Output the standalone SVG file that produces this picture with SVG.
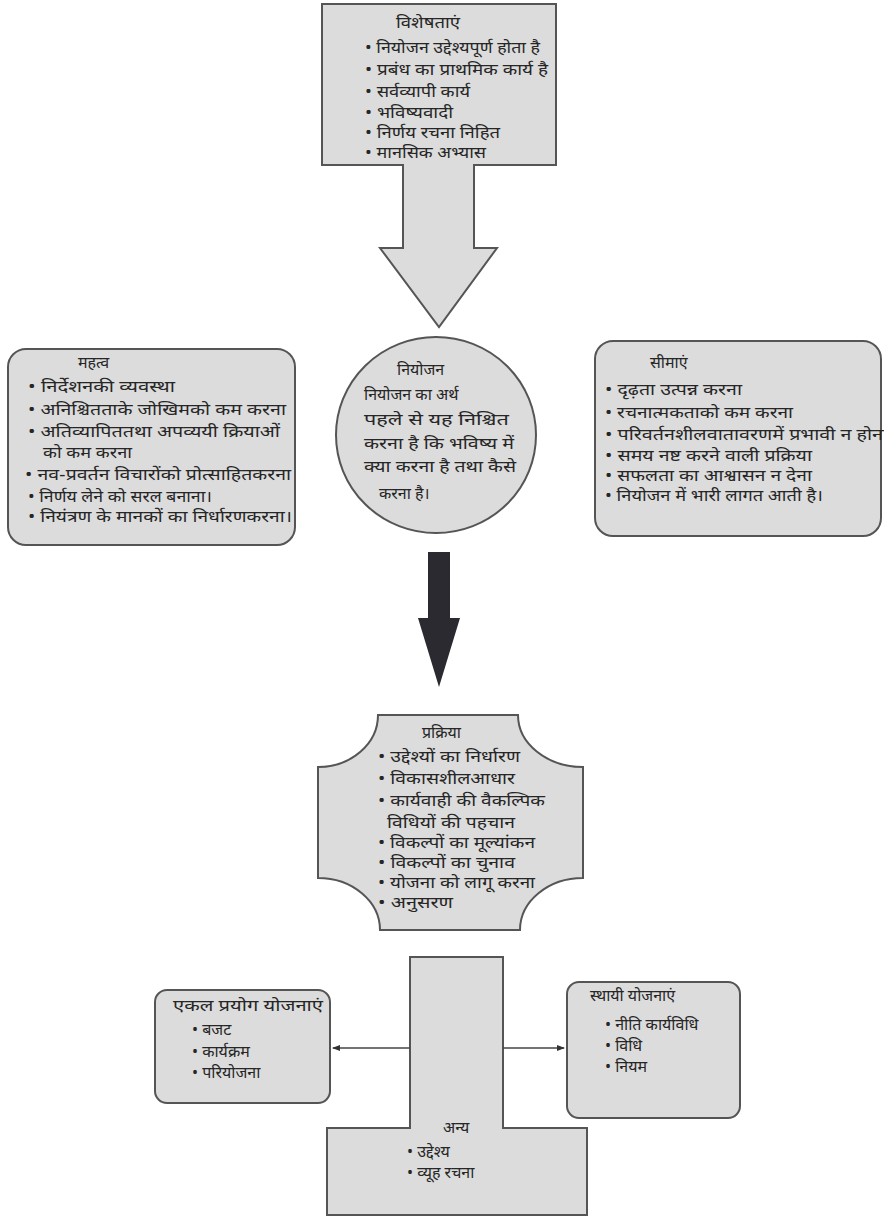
<svg xmlns="http://www.w3.org/2000/svg" width="884" height="1217" viewBox="0 0 884 1217">
<style>
.shape{fill:#dcdcdc;stroke:#555;stroke-width:2}
text{font-family:"Noto Sans Devanagari","Noto Sans","Lohit Devanagari",sans-serif;font-size:16px;fill:#262626}
.conn{stroke:#444;stroke-width:1.5;fill:none}
</style>
<defs>
<marker id="ah" markerWidth="8" markerHeight="8" refX="7" refY="4" orient="auto" markerUnits="userSpaceOnUse">
<path d="M0,1 L8,4 L0,7 Z" fill="#333"/>
</marker>
</defs>
<rect width="884" height="1217" fill="#fff"/>

<g id="features">
<path class="shape" d="M322,4 H556 V165 H474 V248 H497 L439,327 L380,248 H403 V165 H322 Z"/>
<text x="396" y="28" textLength="64" lengthAdjust="spacingAndGlyphs">विशेषताएं</text>
<text x="365" y="53" textLength="175" lengthAdjust="spacingAndGlyphs">• नियोजन उद्देश्यपूर्ण होता है</text>
<text x="365" y="75" textLength="183" lengthAdjust="spacingAndGlyphs">• प्रबंध का प्राथमिक कार्य है</text>
<text x="365" y="97" textLength="105" lengthAdjust="spacingAndGlyphs">• सर्वव्यापी कार्य</text>
<text x="365" y="118" textLength="88" lengthAdjust="spacingAndGlyphs">• भविष्यवादी</text>
<text x="365" y="138" textLength="135" lengthAdjust="spacingAndGlyphs">• निर्णय रचना निहित</text>
<text x="365" y="158" textLength="121" lengthAdjust="spacingAndGlyphs">• मानसिक अभ्यास</text>
</g>

<g id="importance">
<rect class="shape" x="8" y="349" width="287" height="196" rx="18"/>
<text x="78" y="368">महत्व</text>
<text x="28" y="392" textLength="147" lengthAdjust="spacingAndGlyphs">• निर्देशनकी व्यवस्था</text>
<text x="28" y="415" textLength="258" lengthAdjust="spacingAndGlyphs">• अनिश्चितताके जोखिमको कम करना</text>
<text x="28" y="437" textLength="252" lengthAdjust="spacingAndGlyphs">• अतिव्यापिततथा अपव्ययी क्रियाओं</text>
<text x="43" y="458" textLength="89" lengthAdjust="spacingAndGlyphs">को कम करना</text>
<text x="25" y="480" textLength="266" lengthAdjust="spacingAndGlyphs">• नव-प्रवर्तन विचारोंको प्रोत्साहितकरना</text>
<text x="28" y="502" textLength="184" lengthAdjust="spacingAndGlyphs">• निर्णय लेने को सरल बनाना।</text>
<text x="28" y="522" textLength="264" lengthAdjust="spacingAndGlyphs">• नियंत्रण के मानकों का निर्धारणकरना।</text>
</g>

<g id="planning">
<ellipse class="shape" cx="436" cy="435" rx="100" ry="98"/>
<text x="397" y="375">नियोजन</text>
<text x="364" y="400">नियोजन का अर्थ</text>
<text x="364" y="425" textLength="145" lengthAdjust="spacingAndGlyphs">पहले से यह निश्चित</text>
<text x="364" y="449" textLength="150" lengthAdjust="spacingAndGlyphs">करना है कि भविष्य में</text>
<text x="364" y="472" textLength="152" lengthAdjust="spacingAndGlyphs">क्या करना है तथा कैसे</text>
<text x="379" y="499">करना है।</text>
</g>

<g id="limitations">
<rect class="shape" x="595" y="341" width="286" height="195" rx="18"/>
<text x="650" y="368">सीमाएं</text>
<text x="605" y="395" textLength="137" lengthAdjust="spacingAndGlyphs">• दृढ़ता उत्पन्न करना</text>
<text x="605" y="418" textLength="188" lengthAdjust="spacingAndGlyphs">• रचनात्मकताको कम करना</text>
<text x="605" y="440" textLength="283" lengthAdjust="spacingAndGlyphs">• परिवर्तनशीलवातावरणमें प्रभावी न होना</text>
<text x="605" y="461" textLength="207" lengthAdjust="spacingAndGlyphs">• समय नष्ट करने वाली प्रक्रिया</text>
<text x="605" y="481" textLength="207" lengthAdjust="spacingAndGlyphs">• सफलता का आश्वासन न देना</text>
<text x="605" y="501" textLength="218" lengthAdjust="spacingAndGlyphs">• नियोजन में भारी लागत आती है।</text>
</g>

<g id="down-arrow">
<path d="M428,552 H450 V618 H460 L439,687 L418,618 H428 Z" fill="#2a2a30"/>
</g>

<g id="process">
<path class="shape" d="M378,715 H518 A65,52 0 0 0 583,767 V878 A63,52 0 0 0 520,930 H380 A62,52 0 0 0 318,878 V767 A60,52 0 0 0 378,715 Z"/>
<text x="422" y="738">प्रक्रिया</text>
<text x="378" y="762" textLength="142" lengthAdjust="spacingAndGlyphs">• उद्देश्यों का निर्धारण</text>
<text x="378" y="784" textLength="137" lengthAdjust="spacingAndGlyphs">• विकासशीलआधार</text>
<text x="378" y="806" textLength="167" lengthAdjust="spacingAndGlyphs">• कार्यवाही की वैकल्पिक</text>
<text x="387" y="828" textLength="128" lengthAdjust="spacingAndGlyphs">विधियों की पहचान</text>
<text x="378" y="848" textLength="157" lengthAdjust="spacingAndGlyphs">• विकल्पों का मूल्यांकन</text>
<text x="378" y="868" textLength="137" lengthAdjust="spacingAndGlyphs">• विकल्पों का चुनाव</text>
<text x="378" y="888" textLength="157" lengthAdjust="spacingAndGlyphs">• योजना को लागू करना</text>
<text x="378" y="908" textLength="75" lengthAdjust="spacingAndGlyphs">• अनुसरण</text>
</g>

<g id="other">
<path class="shape" d="M410,957 H503 V1128 H587 V1215 H327 V1128 H410 Z"/>
<text x="443" y="1133">अन्य</text>
<text x="407" y="1157">• उद्देश्य</text>
<text x="407" y="1178">• व्यूह रचना</text>
</g>

<g id="single-use">
<rect class="shape" x="155" y="990" width="175" height="113" rx="12"/>
<text x="173" y="1011" textLength="150" lengthAdjust="spacingAndGlyphs">एकल प्रयोग योजनाएं</text>
<text x="192" y="1035">• बजट</text>
<text x="192" y="1057">• कार्यक्रम</text>
<text x="192" y="1078">• परियोजना</text>
</g>

<g id="standing">
<rect class="shape" x="567" y="982" width="173" height="136" rx="12"/>
<text x="590" y="1001">स्थायी योजनाएं</text>
<text x="605" y="1030">• नीति कार्यविधि</text>
<text x="605" y="1051">• विधि</text>
<text x="605" y="1072">• नियम</text>
</g>

<g id="connectors">
<line class="conn" x1="410" y1="1048" x2="333" y2="1048" marker-end="url(#ah)"/>
<line class="conn" x1="503" y1="1048" x2="564" y2="1048" marker-end="url(#ah)"/>
</g>
</svg>
